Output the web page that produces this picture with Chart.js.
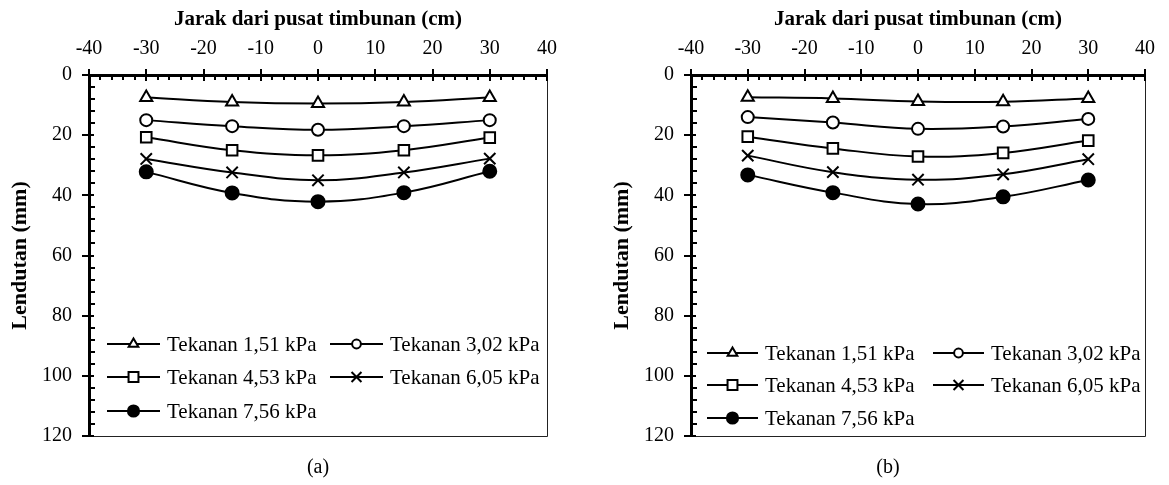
<!DOCTYPE html>
<html>
<head>
<meta charset="utf-8">
<title>Lendutan timbunan</title>
<script src="https://cdn.jsdelivr.net/npm/chart.js@4.4.1/dist/chart.umd.min.js"></script>
<style>
    body {
        margin: 0;
        background: #fff;
        width: 1169px;
        height: 485px;
        position: relative;
        overflow: hidden;
        font-family: "Liberation Serif", "Times New Roman", serif;
    }
    .panel { position: absolute; top: 0; }
    .cap {
        position: absolute;
        top: 455px;
        font-size: 20px;
        transform: translateX(-50%);
        color: #000;
    }
</style>
</head>
<body>
<canvas id="chartA" class="panel" width="584" height="465" style="left:0"></canvas>
<canvas id="chartB" class="panel" width="567" height="465" style="left:602px"></canvas>
<div class="cap" style="left:318px">(a)</div>
<div class="cap" style="left:888px">(b)</div>

<script>
// Data
const jarak = [-30, -15, 0, 15, 30];
const xTicks = [-40, -30, -20, -10, 0, 10, 20, 30, 40];
const yTicks = [0, 20, 40, 60, 80, 100, 120];
const tekanan = ['Tekanan 1,51 kPa', 'Tekanan 3,02 kPa', 'Tekanan 4,53 kPa', 'Tekanan 6,05 kPa', 'Tekanan 7,56 kPa'];

// panel (a)
const a151 = [7.5, 9.0, 9.5, 9.0, 7.5];
const a302 = [15.0, 17.0, 18.2, 17.0, 15.0];
const a453 = [20.7, 25.0, 26.7, 25.0, 20.8];
const a605 = [27.9, 32.4, 35.0, 32.4, 27.8];
const a756 = [32.2, 39.2, 42.1, 39.1, 32.0];

// panel (b)
const b151 = [7.4, 7.8, 8.8, 8.9, 7.8];
const b302 = [14.0, 15.8, 17.9, 17.1, 14.6];
const b453 = [20.5, 24.4, 27.1, 25.9, 21.8];
const b605 = [26.8, 32.3, 34.8, 33.0, 28.0];
const b756 = [33.2, 39.1, 42.9, 40.5, 34.9];

const SERIF = '"Liberation Serif", "Times New Roman", serif';

// marker look per series
const markers = [
    { style: 'triangle', radius: 7, legendRadius: 5.6, fill: '#fff' },
    { style: 'circle', radius: 6, legendRadius: 4.4, fill: '#fff' },
    { style: 'rect', radius: 7.5, legendRadius: 7, fill: '#fff' },
    { style: 'crossRot', radius: 8, legendRadius: 7, fill: '#000' },
    { style: 'circle', radius: 6.5, legendRadius: 5.6, fill: '#000' }
];

function makeDatasets(seriesList) {
    return seriesList.map(function(values, i) {
        const m = markers[i];
        return {
            label: tekanan[i],
            data: jarak.map(function(x, j) { return { x: x, y: values[j] }; }),
            borderColor: '#000',
            borderWidth: 2,
            tension: 0.4,
            pointStyle: m.style,
            pointRadius: m.radius,
            pointBackgroundColor: m.fill,
            pointBorderColor: '#000',
            pointBorderWidth: 2,
            legendRadius: m.legendRadius
        };
    });
}

// draw a marker the same way Chart.js does
function drawMark(ctx, style, x, y, r, fill) {
    ctx.beginPath();
    if (style === 'circle') {
        ctx.arc(x, y, r, 0, Math.PI * 2);
    } else if (style === 'triangle') {
        let rad = 0;
        ctx.moveTo(x + Math.sin(rad) * r, y - Math.cos(rad) * r);
        rad += Math.PI * 2 / 3;
        ctx.lineTo(x + Math.sin(rad) * r, y - Math.cos(rad) * r);
        rad += Math.PI * 2 / 3;
        ctx.lineTo(x + Math.sin(rad) * r, y - Math.cos(rad) * r);
        ctx.closePath();
    } else if (style === 'rect') {
        const s = Math.SQRT1_2 * r;
        ctx.rect(x - s, y - s, 2 * s, 2 * s);
    } else if (style === 'crossRot') {
        const o = Math.SQRT1_2 * r;
        ctx.moveTo(x - o, y - o); ctx.lineTo(x + o, y + o);
        ctx.moveTo(x + o, y - o); ctx.lineTo(x - o, y + o);
    }
    if (style !== 'crossRot') {
        ctx.fillStyle = fill;
        ctx.fill();
    }
    ctx.stroke();
}

// axis ticks, frame and legend inside the plot
const frameAndLegend = {
    id: 'frameAndLegend',
    afterDraw(chart, args, opts) {
        const ctx = chart.ctx;
        const area = chart.chartArea;
        const xs = chart.scales.x;
        const ys = chart.scales.y;
        ctx.save();

        // thin right and bottom frame
        ctx.strokeStyle = '#222';
        ctx.lineWidth = 1;
        ctx.beginPath();
        ctx.moveTo(Math.round(area.right) + 0.5, area.top);
        ctx.lineTo(Math.round(area.right) + 0.5, Math.round(area.bottom) + 0.5);
        ctx.lineTo(area.left, Math.round(area.bottom) + 0.5);
        ctx.stroke();

        // ticks on the top axis
        ctx.strokeStyle = '#000';
        ctx.lineWidth = 2;
        for (let v = xs.min; v <= xs.max; v += 2) {
            const px = Math.round(xs.getPixelForValue(v));
            ctx.beginPath();
            if (v % 10 === 0) {
                ctx.moveTo(px, area.top - 6);
                ctx.lineTo(px, area.top + 6);
            } else {
                ctx.moveTo(px, area.top);
                ctx.lineTo(px, area.top + 5);
            }
            ctx.stroke();
        }
        // ticks on the left axis
        for (let v = ys.min; v <= ys.max; v += 4) {
            const py = Math.round(ys.getPixelForValue(v));
            ctx.beginPath();
            if (v % 20 === 0) {
                ctx.moveTo(area.left - 7, py);
                ctx.lineTo(area.left + 5, py);
            } else {
                ctx.moveTo(area.left, py);
                ctx.lineTo(area.left + 6, py);
            }
            ctx.stroke();
        }

        // legend
        const lg = opts.legend;
        ctx.font = '21px ' + SERIF;
        ctx.textBaseline = 'middle';
        ctx.textAlign = 'left';
        chart.data.datasets.forEach(function(ds, i) {
            const col = i % 2;
            const row = Math.floor(i / 2);
            const x0 = area.left + lg.cols[col];
            const y0 = area.top + lg.rows[row];
            ctx.strokeStyle = '#000';
            ctx.lineWidth = 2;
            ctx.beginPath();
            ctx.moveTo(x0, y0);
            ctx.lineTo(x0 + lg.lineLen, y0);
            ctx.stroke();
            drawMark(ctx, ds.pointStyle, x0 + lg.lineLen / 2, y0, ds.legendRadius, ds.pointBackgroundColor);
            ctx.fillStyle = '#000';
            ctx.fillText(ds.label, x0 + lg.lineLen + 7, y0 + 1);
        });
        ctx.restore();
    }
};

function buildOptions(padRight, legend) {
    return {
        responsive: false,
        animation: false,
        layout: { padding: { left: 0, top: 0, right: padRight, bottom: 10 } },
        plugins: {
            legend: { display: false },
            tooltip: { enabled: false },
            frameAndLegend: { legend: legend }
        },
        scales: {
            x: {
                type: 'linear',
                position: 'top',
                min: -40,
                max: 40,
                afterBuildTicks: function(scale) {
                    scale.ticks = xTicks.map(function(v) { return { value: v }; });
                },
                afterFit: function(scale) { scale.height = 75; },
                grid: { display: false, drawTicks: false },
                border: { display: true, color: '#000', width: 3 },
                ticks: { color: '#000', padding: 14, font: { family: SERIF, size: 20 } },
                title: {
                    display: true,
                    text: 'Jarak dari pusat timbunan (cm)',
                    color: '#000',
                    padding: { top: 7, bottom: 0 },
                    font: { family: SERIF, size: 21, weight: 'bold' }
                }
            },
            y: {
                type: 'linear',
                reverse: true,
                min: 0,
                max: 120,
                afterBuildTicks: function(scale) {
                    scale.ticks = yTicks.map(function(v) { return { value: v }; });
                },
                afterFit: function(scale) { scale.width = 89; },
                grid: { display: false, drawTicks: false },
                border: { display: true, color: '#000', width: 3 },
                ticks: { color: '#000', padding: 17, font: { family: SERIF, size: 20 } },
                title: {
                    display: true,
                    text: 'Lendutan (mm)',
                    color: '#000',
                    padding: { top: 7, bottom: 0 },
                    font: { family: SERIF, size: 22, weight: 'bold' }
                }
            }
        }
    };
}

new Chart(document.getElementById('chartA'), {
    type: 'line',
    data: { datasets: makeDatasets([a151, a302, a453, a605, a756]) },
    options: buildOptions(37, { cols: [18, 241], rows: [269, 302, 336], lineLen: 53 }),
    plugins: [frameAndLegend]
});

new Chart(document.getElementById('chartB'), {
    type: 'line',
    data: { datasets: makeDatasets([b151, b302, b453, b605, b756]) },
    options: buildOptions(16, { cols: [16, 242], rows: [278, 310, 343], lineLen: 51 }),
    plugins: [frameAndLegend]
});
</script>
</body>
</html>
